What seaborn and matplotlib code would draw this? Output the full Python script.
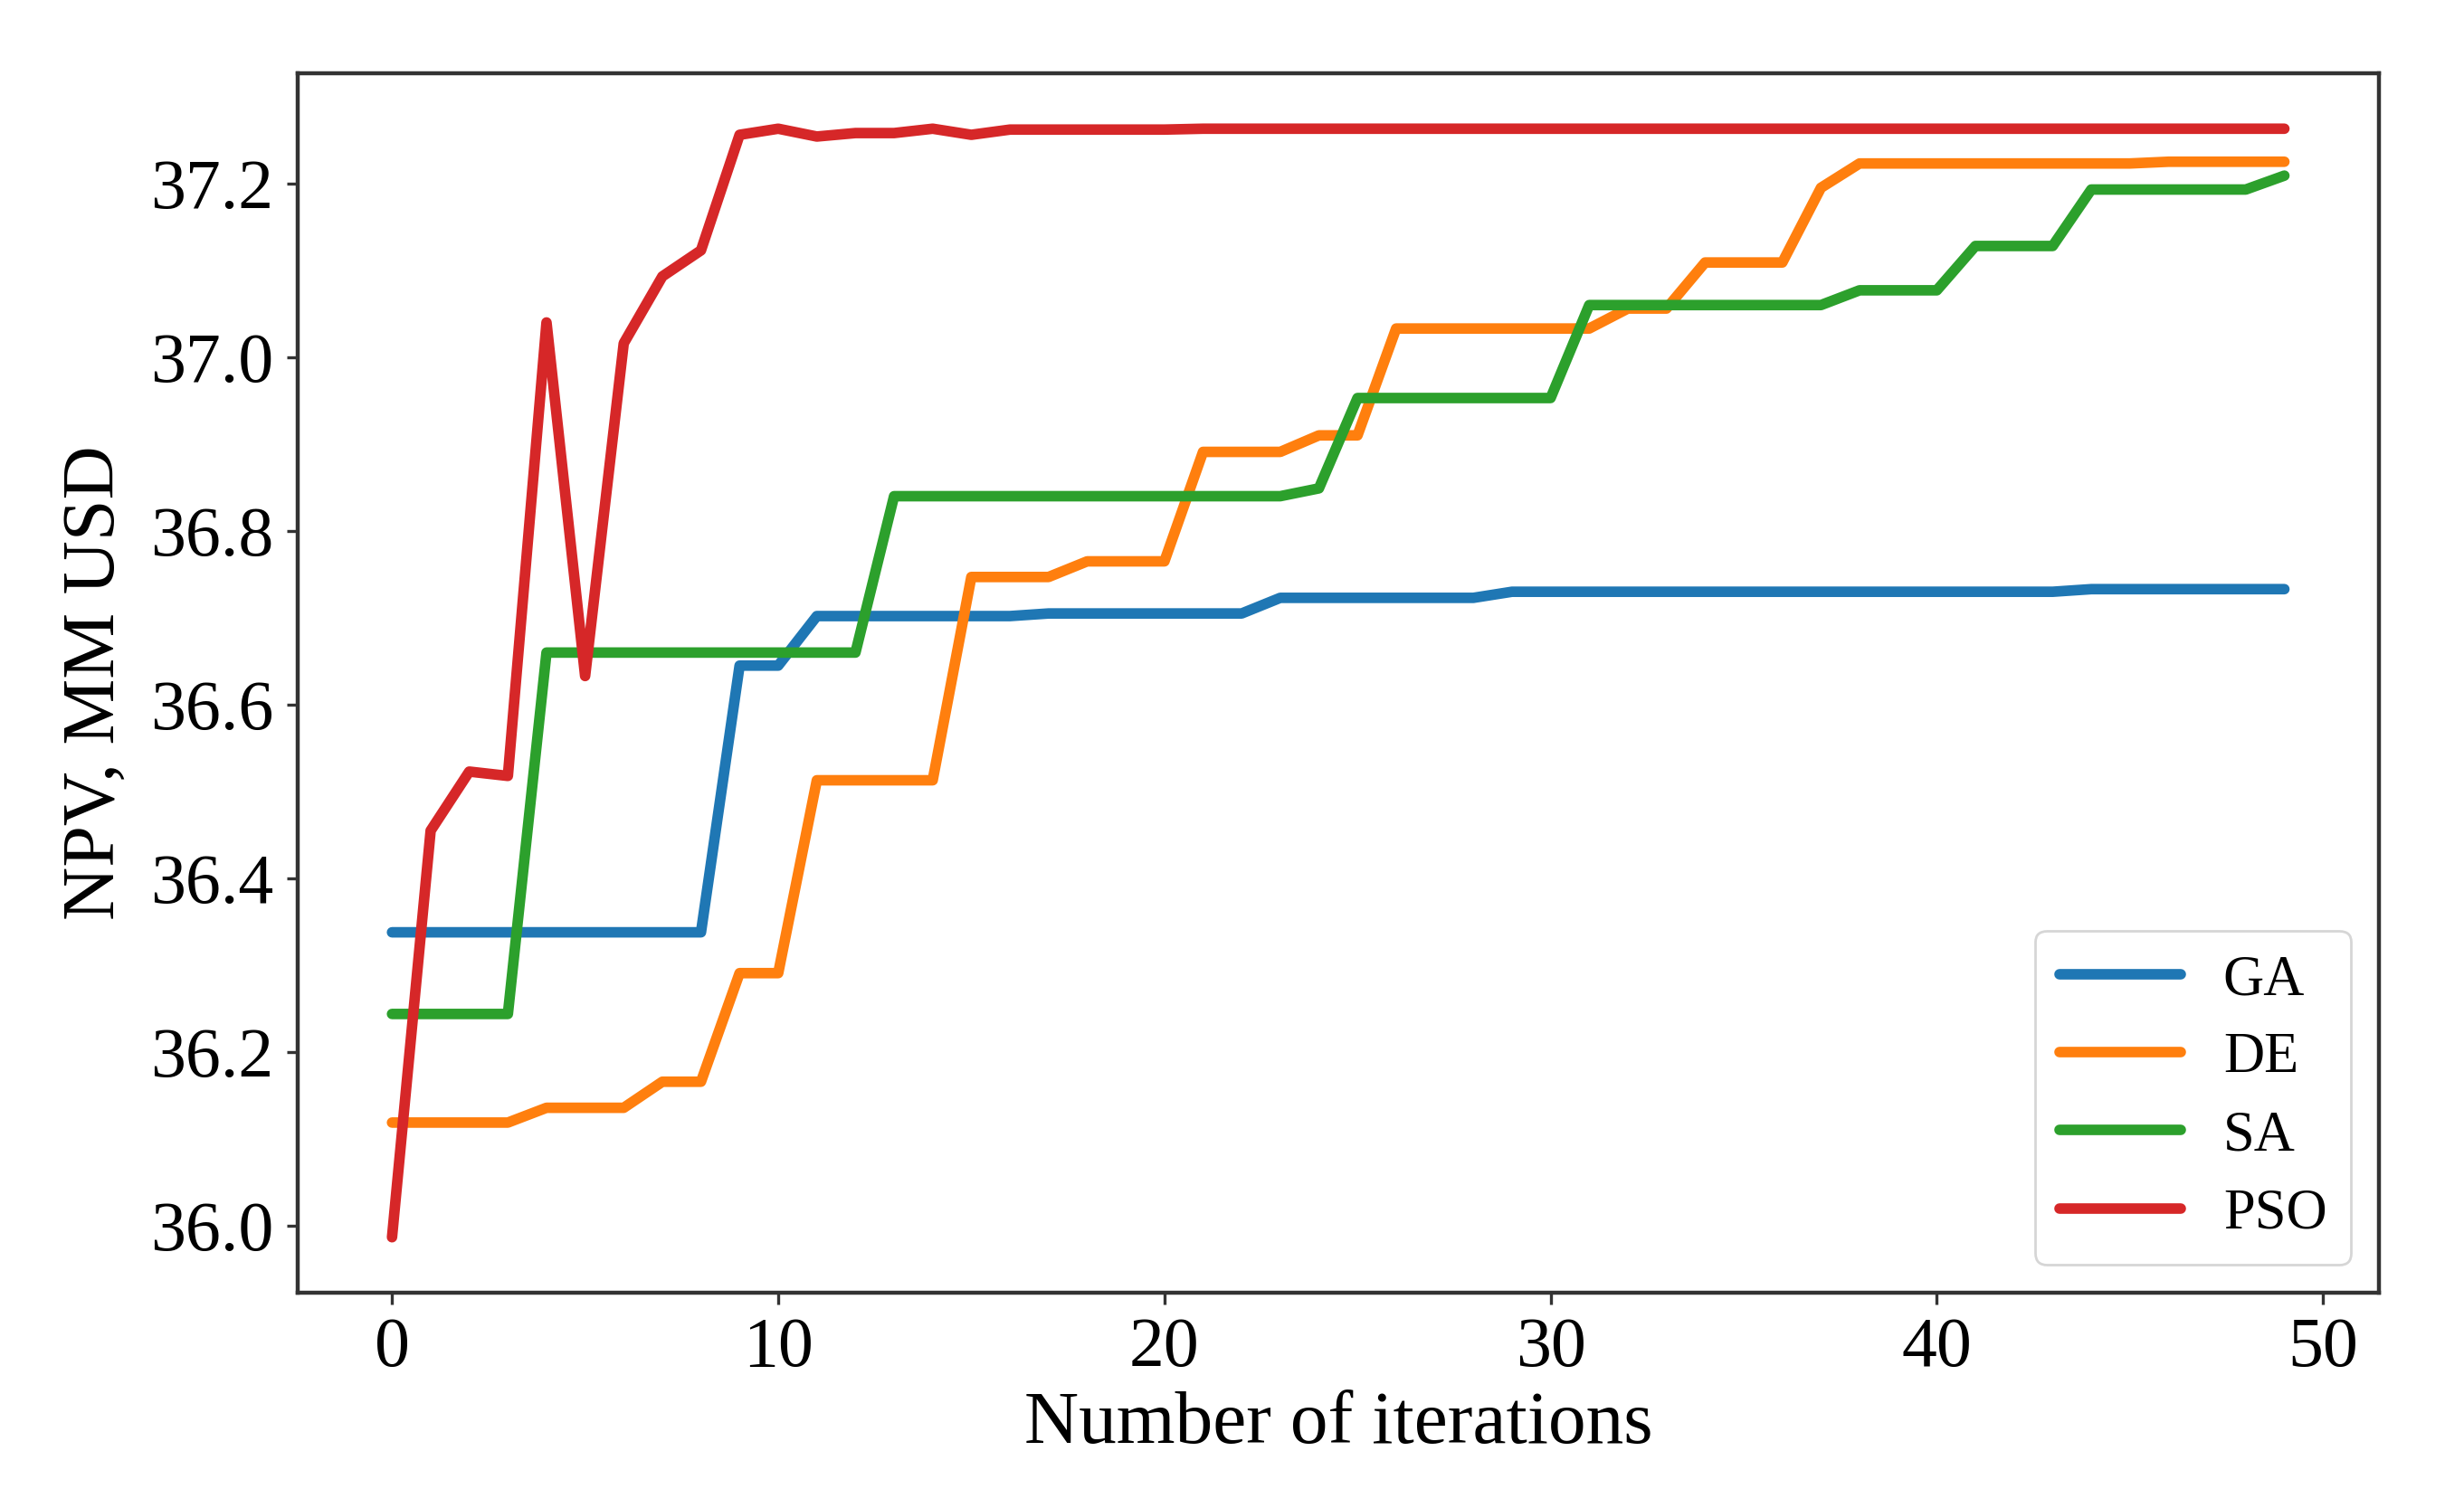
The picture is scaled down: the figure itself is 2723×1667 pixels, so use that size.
import matplotlib
matplotlib.use("Agg")
import matplotlib.pyplot as plt
import seaborn as sns
import numpy as np
import pandas as pd

iterations = list(range(50))

GA = [36.338, 36.338, 36.338, 36.338, 36.338, 36.338, 36.338, 36.338, 36.338,
      36.645, 36.645,
      36.702, 36.702, 36.702, 36.702, 36.702, 36.702,
      36.705, 36.705, 36.705, 36.705, 36.705, 36.705,
      36.723, 36.723, 36.723, 36.723, 36.723, 36.723,
      36.730, 36.730, 36.730, 36.730, 36.730, 36.730, 36.730, 36.730, 36.730, 36.730,
      36.730, 36.730, 36.730, 36.730, 36.730,
      36.733, 36.733, 36.733, 36.733, 36.733, 36.733]

DE = [36.119, 36.119, 36.119, 36.119,
      36.136, 36.136, 36.136,
      36.166, 36.166,
      36.291, 36.291,
      36.513, 36.513, 36.513, 36.513,
      36.747, 36.747, 36.747,
      36.765, 36.765, 36.765,
      36.891, 36.891, 36.891,
      36.910, 36.910,
      37.033, 37.033, 37.033, 37.033, 37.033, 37.033,
      37.056, 37.056,
      37.109, 37.109, 37.109,
      37.195,
      37.223, 37.223, 37.223, 37.223, 37.223, 37.223, 37.223, 37.223,
      37.225, 37.225, 37.225, 37.225]

SA = [36.244, 36.244, 36.244, 36.244,
      36.660, 36.660, 36.660, 36.660, 36.660, 36.660, 36.660, 36.660, 36.660,
      36.840, 36.840, 36.840, 36.840, 36.840, 36.840, 36.840, 36.840, 36.840, 36.840, 36.840,
      36.849,
      36.953, 36.953, 36.953, 36.953, 36.953, 36.953,
      37.060, 37.060, 37.060, 37.060, 37.060, 37.060, 37.060,
      37.077, 37.077, 37.077,
      37.128, 37.128, 37.128,
      37.193, 37.193, 37.193, 37.193, 37.193,
      37.209]

PSO = [35.987, 36.455, 36.523, 36.518, 37.040, 36.633, 37.016, 37.093, 37.123,
       37.256, 37.263, 37.254, 37.258, 37.258, 37.263, 37.256,
       37.262, 37.262, 37.262, 37.262, 37.262,
       37.263, 37.263, 37.263, 37.263, 37.263, 37.263, 37.263, 37.263, 37.263, 37.263,
       37.263, 37.263, 37.263, 37.263, 37.263, 37.263, 37.263, 37.263, 37.263, 37.263,
       37.263, 37.263, 37.263, 37.263, 37.263, 37.263, 37.263, 37.263, 37.263]

methods = ["GA", "DE", "SA", "PSO"]
series = [GA, DE, SA, PSO]
colors = ["#1f77b4", "#ff7f0e", "#2ca02c", "#d62728"]

sns.set_theme(style="ticks")
plt.rcParams["font.family"] = ["Liberation Serif", "DejaVu Serif"]
plt.rcParams["text.color"] = "black"
plt.rcParams["axes.labelcolor"] = "black"
plt.rcParams["xtick.color"] = "black"
plt.rcParams["ytick.color"] = "black"

fig, ax = plt.subplots(figsize=(13.615, 8.335), dpi=200)
fig.subplots_adjust(left=0.1207, right=0.9655, bottom=0.1428, top=0.9514)

LW = 4.2
for name, vals, col in zip(methods, series, colors):
    df = pd.DataFrame({"iter": iterations, "npv": vals})
    sns.lineplot(data=df, x="iter", y="npv", ax=ax, color=col, label=name,
                 linewidth=LW, estimator=None, sort=False)

ax.set_xlabel("Number of iterations", fontsize=30, labelpad=4, color="black")
ax.set_ylabel("NPV, MM USD", fontsize=29.5, labelpad=8, color="black")
ax.set_xticks([0, 10, 20, 30, 40, 50])
ax.set_yticks([36.0, 36.2, 36.4, 36.6, 36.8, 37.0, 37.2])
ax.set_yticklabels(["36.0", "36.2", "36.4", "36.6", "36.8", "37.0", "37.2"])
ax.tick_params(axis="both", labelsize=28, length=4.5, width=1.2,
               color="#333333", labelcolor="black", pad=5)

for sp in ax.spines.values():
    sp.set_color("#333333")
    sp.set_linewidth(1.6)

leg = ax.legend(loc="lower right", fontsize=22.5, handlelength=2.15, frameon=True,
                borderpad=0.42, labelspacing=0.45, handletextpad=0.75,
                borderaxespad=0.5)
leg.get_frame().set_edgecolor("#cccccc")
for t in leg.get_texts():
    t.set_color("black")
for h in leg.legend_handles:
    h.set_linewidth(LW)

fig.savefig("out.png", dpi=200)
